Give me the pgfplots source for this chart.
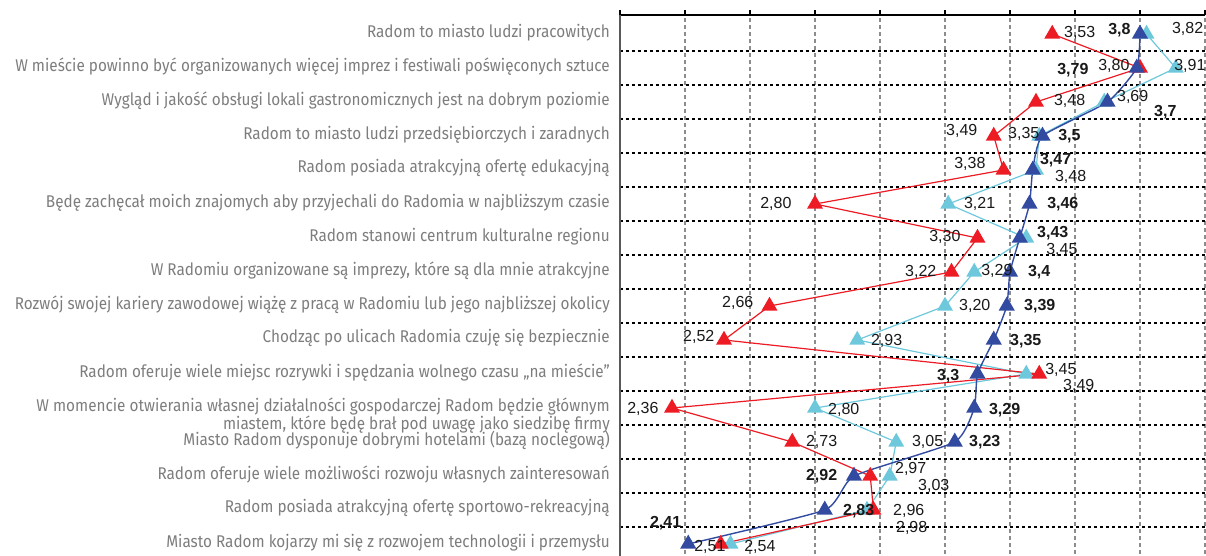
\documentclass[border=0pt]{standalone}
\usepackage{pgfplots}
\pgfplotsset{compat=1.18}
\usepackage{pgfplotstable}
\usepackage{fontspec}
\setmainfont{Liberation Sans}
\newfontfamily\catfont[FakeStretch=0.9]{Fira Sans}
\definecolor{cred}{RGB}{237,28,36}
\definecolor{clb}{RGB}{110,200,220}
\definecolor{cdb}{RGB}{50,75,160}
\definecolor{catgray}{RGB}{125,125,125}

\pgfplotstableread{
y red lb db
16 3.53 3.82 3.80
15 3.80 3.91 3.79
14 3.48 3.69 3.70
13 3.35 3.49 3.50
12 3.38 3.48 3.47
11 2.80 3.21 3.46
10 3.30 3.45 3.43
9 3.22 3.29 3.40
8 2.66 3.20 3.39
7 2.52 2.93 3.35
6 3.49 3.45 3.30
5 2.36 2.80 3.29
4 2.73 3.05 3.23
3 2.97 3.03 2.92
2 2.98 2.96 2.83
1 2.51 2.54 2.41
}\data

\pgfplotstableread{
x y lab
3.566 16.03 3,53
3.898 16.15 3,82
3.671 15.06 3,80
3.905 15.06 3,91
3.535 14.03 3,48
3.729 14.15 3,69
3.203 13.15 3,49
3.394 13.06 3,35
3.228 12.18 3,38
3.538 11.79 3,48
2.631 11.00 2,80
3.258 11.00 3,21
3.151 10.03 3,30
3.511 9.65 3,45
3.077 9.00 3,22
3.311 9.03 3,29
2.514 8.09 2,66
3.243 8.00 3,20
2.394 7.09 2,52
2.972 6.97 2,93
3.508 6.12 3,45
3.563 5.65 3,49
2.222 4.97 2,36
2.840 4.94 2,80
2.772 4.00 2,73
3.098 4.00 3,05
3.046 3.21 2,97
3.117 2.71 3,03
3.040 1.97 2,96
3.049 1.47 2,98
2.428 0.91 2,51
2.582 0.91 2,54
}\labnormal

\pgfplotstableread{
x y lab
3.702 16.12 3,8
3.545 14.94 3,79
3.843 13.71 3,7
3.548 13.00 3,5
3.492 12.29 3,47
3.514 11.00 3,46
3.483 10.15 3,43
3.455 9.00 3,4
3.443 8.00 3,39
3.400 6.97 3,35
3.175 5.94 3,3
3.335 4.94 3,29
3.274 4.00 3,23
2.772 3.00 2,92
2.886 1.97 2,83
2.292 1.62 2,41
}\labbold

\begin{document}
\begin{tikzpicture}
\begin{axis}[
  scale only axis, width=585pt, height=546pt,
  xmin=2.2, xmax=4.0, ymin=0.5, ymax=16.559,
  axis x line*=top, axis y line*=left,
  x axis line style={-, line width=1.3pt, black},
  y axis line style={-, line width=1.6pt, black!65},
  xtick={2.2,2.4,2.6,2.8,3.0,3.2,3.4,3.6,3.8,4.0}, xticklabels={},
  xtick pos=upper, tick align=outside,
  major tick length=5pt,
  xtick style={line width=1.2pt, black},
  ytick style={draw=none},
  minor tick length=0pt,
  xmajorgrids, yminorgrids,
  major grid style={black!45, dash pattern=on 4pt off 3pt, line width=1.8pt},
  minor grid style={black, dash pattern=on 3pt off 3pt, line width=2pt},
  minor ytick={1.5,2.5,3.5,4.5,5.5,6.5,7.5,8.5,9.5,10.5,11.5,12.5,13.5,14.5,15.5},
  ytick={1.05,2.05,3.05,4.05,4.79,6.05,7.05,8.05,9.05,10.05,11.05,12.05,13.05,14.05,15.05,16.05},
  yticklabels={
    {Miasto Radom kojarzy mi się z rozwojem technologii i przemysłu},
    {Radom posiada atrakcyjną ofertę sportowo-rekreacyjną},
    {Radom oferuje wiele możliwości rozwoju własnych zainteresowań},
    {Miasto Radom dysponuje dobrymi hotelami (bazą noclegową)},
    {W momencie otwierania własnej działalności gospodarczej Radom będzie głównym\\miastem, które będę brał pod uwagę jako siedzibę firmy},
    {Radom oferuje wiele miejsc rozrywki i spędzania wolnego czasu „na mieście”},
    {Chodząc po ulicach Radomia czuję się bezpiecznie},
    {Rozwój swojej kariery zawodowej wiążę z pracą w Radomiu lub jego najbliższej okolicy},
    {W Radomiu organizowane są imprezy, które są dla mnie atrakcyjne},
    {Radom stanowi centrum kulturalne regionu},
    {Będę zachęcał moich znajomych aby przyjechali do Radomia w najbliższym czasie},
    {Radom posiada atrakcyjną ofertę edukacyjną},
    {Radom to miasto ludzi przedsiębiorczych i zaradnych},
    {Wygląd i jakość obsługi lokali gastronomicznych jest na dobrym poziomie},
    {W mieście powinno być organizowanych więcej imprez i festiwali poświęconych sztuce},
    {Radom to miasto ludzi pracowitych}},
  yticklabel style={font=\catfont\fontsize{17}{18}\selectfont, text=catgray, anchor=east, inner sep=0pt, xshift=-5pt, align=right},
  clip=false,
]
\coordinate (sw) at (rel axis cs:0,0);
\coordinate (ne) at (rel axis cs:1,1);
\addplot[clb, line width=1.2pt, mark=triangle*, mark size=8pt, mark options={solid, fill=clb, draw=clb}] table[x=lb, y=y]{\data};
\addplot[cred, line width=1.2pt, mark=triangle*, mark size=8pt, mark options={solid, fill=cred, draw=cred}] table[x=red, y=y]{\data};
\addplot[cdb, line width=1.4pt, smooth, tension=0.3, mark=triangle*, mark size=8pt, mark options={solid, fill=cdb, draw=cdb}] table[x=db, y=y]{\data};
\addplot[draw=none, mark=none, nodes near coords, point meta=explicit symbolic,
  every node near coord/.append style={anchor=west, inner sep=0pt, font=\fontsize{16}{18}\selectfont, text=black!90}]
  table[x=x, y=y, meta=lab]{\labnormal};
\addplot[draw=none, mark=none, nodes near coords, point meta=explicit symbolic,
  every node near coord/.append style={anchor=west, inner sep=0pt, font=\bfseries\fontsize{16}{18}\selectfont, text=black!90}]
  table[x=x, y=y, meta=lab]{\labbold};
\end{axis}
\pgfresetboundingbox
\path ([xshift=-620pt,yshift=5pt]sw) rectangle ([xshift=1pt,yshift=15pt]ne);
\end{tikzpicture}
\end{document}
